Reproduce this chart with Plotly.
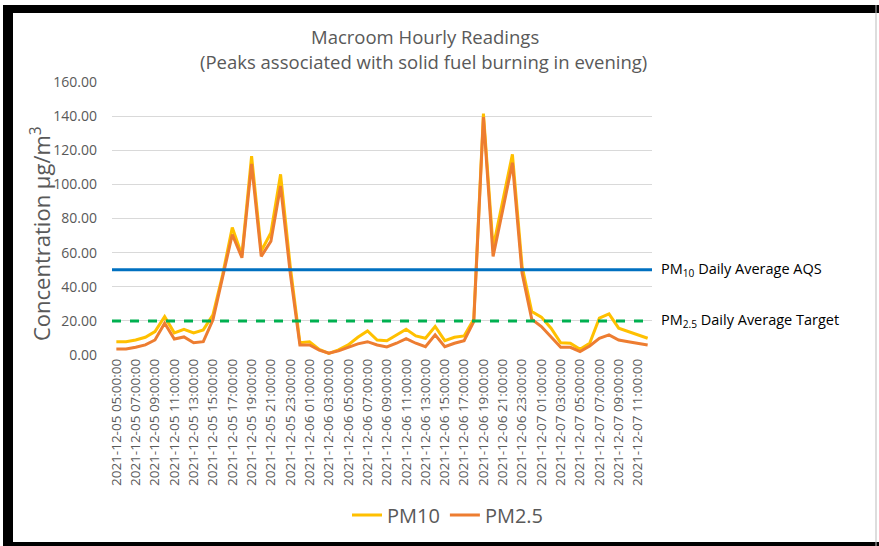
import pandas as pd
import plotly.graph_objects as go

# ---- data ----
timestamps = [t.strftime("%Y-%m-%d %H:%M:%S") for t in pd.date_range("2021-12-05 05:00:00", "2021-12-07 12:00:00", freq="h")]

pm10 = [7.8, 7.8, 8.8, 10.4, 13.7, 22.5, 13.0, 15.0, 13.0, 14.7,
        23.5, 47.0, 74.7, 58.5, 116.5, 61.0, 71.6, 105.9, 52.0, 7.2,
        7.8, 3.3, 1.0, 3.0, 5.9, 10.4, 14.1, 8.8, 8.4, 11.8,
        15.1, 11.2, 9.8, 16.7, 8.4, 10.4, 11.2, 21.0, 141.5, 63.0,
        91.0, 117.6, 52.0, 25.5, 22.2, 15.7, 7.2, 6.9, 3.3, 6.9,
        21.6, 24.1, 15.7, 13.7, 11.8, 9.8]

pm25 = [3.5, 3.5, 4.5, 5.9, 8.8, 18.6, 9.4, 10.6, 7.2, 7.8,
        20.6, 45.0, 70.6, 57.0, 112.0, 57.8, 66.7, 99.0, 48.0, 5.9,
        5.9, 2.9, 1.0, 2.4, 4.5, 6.5, 7.8, 5.9, 4.7, 6.9,
        9.6, 6.9, 4.9, 11.8, 4.9, 6.9, 8.4, 19.5, 139.5, 57.8,
        85.0, 112.7, 48.0, 21.0, 16.7, 10.4, 4.5, 4.5, 2.0, 5.3,
        9.8, 11.8, 8.8, 7.8, 6.9, 5.9]

tick_labels = timestamps[0:55:2]
pm10_aqs = 50
pm25_target = 20
title_line1 = "Macroom Hourly Readings"
title_line2 = "(Peaks associated with solid fuel burning in evening)"
y_title = "Concentration µg/m<sup>3</sup>"

# ---- figure geometry helpers (pixels -> paper) ----
W, H = 879, 546
L, R, T, B = 112, 652, 82, 355
def px(x):
    return (x - L) / (R - L)
def py(y):
    return (B - y) / (B - T)

grey = "#595959"
fig = go.Figure()
fig.add_trace(go.Scatter(x=timestamps, y=pm10, mode="lines", name="PM10",
                         line=dict(color="#FFC000", width=3)))
fig.add_trace(go.Scatter(x=timestamps, y=pm25, mode="lines", name="PM2.5",
                         line=dict(color="#ED7D31", width=3)))

shapes = [
    dict(type="line", xref="paper", yref="y", x0=0, x1=1, y0=pm10_aqs, y1=pm10_aqs,
         line=dict(color="#0070C0", width=3), layer="above"),
    dict(type="line", xref="paper", yref="y", x0=0, x1=1, y0=pm25_target, y1=pm25_target,
         line=dict(color="#00B050", width=3, dash="dash"), layer="above"),
    # border
    dict(type="rect", xref="paper", yref="paper", x0=px(3), x1=px(879), y0=py(5), y1=py(13),
         fillcolor="black", line=dict(width=0)),
    dict(type="rect", xref="paper", yref="paper", x0=px(3), x1=px(13), y0=py(5), y1=py(546),
         fillcolor="black", line=dict(width=0)),
    dict(type="rect", xref="paper", yref="paper", x0=px(3), x1=px(879), y0=py(542), y1=py(546),
         fillcolor="black", line=dict(width=0)),
    dict(type="line", xref="paper", yref="paper", x0=px(876), x1=px(876), y0=py(5), y1=py(546),
         line=dict(color="#bbbbbb", width=1)),
]

annotations = [
    dict(text=title_line1, xref="paper", yref="paper", x=px(425), y=py(37),
         xanchor="center", yanchor="middle", showarrow=False,
         font=dict(family="Open Sans", size=18.5, color=grey)),
    dict(text=title_line2, xref="paper", yref="paper", x=px(423), y=py(61),
         xanchor="center", yanchor="middle", showarrow=False,
         font=dict(family="Open Sans", size=18.5, color=grey)),
    dict(text=y_title, xref="paper", yref="paper", x=px(40), y=py(234), textangle=-90,
         xanchor="center", yanchor="middle", showarrow=False,
         font=dict(family="Open Sans", size=22, color=grey)),
    dict(text="PM<sub>10</sub> Daily Average AQS", xref="paper", yref="y", x=px(659), y=pm10_aqs,
         xanchor="left", yanchor="middle", showarrow=False,
         font=dict(family="Open Sans", size=14.5, color="black")),
    dict(text="PM<sub>2.5</sub> Daily Average Target", xref="paper", yref="y", x=px(659), y=pm25_target,
         xanchor="left", yanchor="middle", showarrow=False,
         font=dict(family="Open Sans", size=14.5, color="black")),
]

fig.update_layout(
    width=W, height=H,
    margin=dict(l=L, r=W - R, t=T, b=H - B),
    paper_bgcolor="white", plot_bgcolor="white",
    font=dict(family="Open Sans", color=grey),
    showlegend=True,
    legend=dict(orientation="h", x=px(448), xanchor="center", y=py(515), yanchor="middle",
                font=dict(family="Open Sans", size=20, color=grey), bgcolor="rgba(0,0,0,0)"),
    shapes=shapes,
    annotations=annotations,
)

fig.update_xaxes(type="category", range=[-0.45, len(timestamps) - 1 + 0.45],
                 tickmode="array", tickvals=tick_labels, ticktext=tick_labels,
                 tickangle=-90, tickfont=dict(family="Open Sans", size=13.5, color=grey),
                 showgrid=False, showline=False, zeroline=False, ticks="")

fig.update_yaxes(range=[0, 160], dtick=20, tickformat=".2f",
                 tickfont=dict(family="Open Sans", size=14, color=grey),
                 showgrid=True, gridcolor="#d9d9d9", gridwidth=1, zeroline=False,
                 showline=False, ticks="", ticklabelstandoff=14)

fig.write_html("out.html", config={"displayModeBar": False},
               post_script="document.body.style.margin='0';")
